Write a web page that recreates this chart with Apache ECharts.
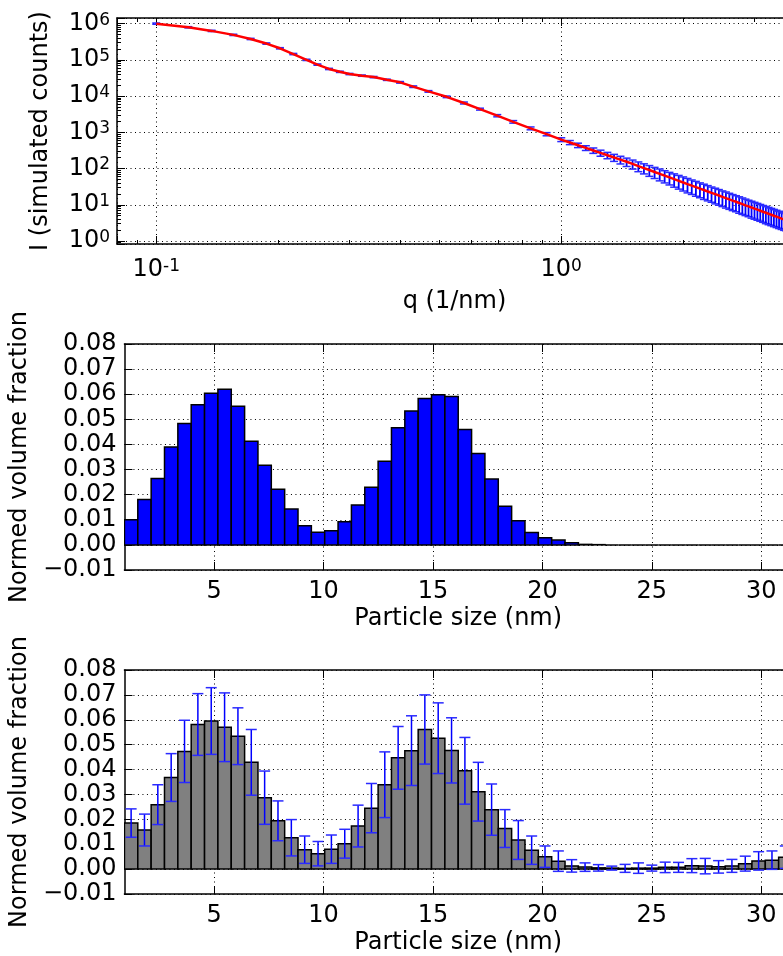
<!DOCTYPE html>
<html><head><meta charset="utf-8">
<script src="https://cdn.jsdelivr.net/npm/echarts@6/dist/echarts.min.js"></script>
<style>html,body{margin:0;padding:0;background:#fff;overflow:hidden}#c{width:800px;height:956px}</style>
</head><body><div id="c"></div>
<script>
// ---------- Panel 1: scattering curve ----------
const qValues = [0.100,0.120,0.137,0.155,0.171,0.187,0.202,0.218,0.235,0.250,0.267,0.284,0.300,0.322,0.344,0.371,0.400,0.431,0.470,0.521,0.575,0.630,0.695,0.761,0.840,0.920,
1.00,1.05,1.10,1.15,1.20,1.25,1.30,1.35,1.40,1.45,
1.50,1.55,1.60,1.65,1.70,1.75,1.80,1.85,1.90,1.95,2.00,2.05,2.10,2.15,2.20,2.25,2.30,2.35,2.40,2.45,2.50,2.55,2.60,2.65,2.70,2.75,2.80,2.85,2.90,2.95,3.00,3.05,3.10,3.15,3.20,3.25,3.30,3.35,3.40,3.45,3.50,3.55,3.60,3.65,3.70];
const intensity = [1.00e6,7.94e5,6.31e5,4.90e5,3.78e5,2.82e5,2.09e5,1.45e5,1.00e5,7.41e4,5.62e4,4.68e4,4.07e4,3.67e4,3.35e4,2.82e4,2.40e4,1.82e4,1.35e4,9.55e3,6.46e3,4.37e3,2.88e3,1.95e3,1.29e3,891,
631,525,440,371,316,270,233,202,176,154,
134,117,103,90.9,80.4,71.4,63.6,56.8,50.9,45.8,41.3,37.3,33.8,30.7,27.9,25.5,23.3,21.3,19.6,18.0,16.5,15.3,14.1,13.0,12.1,11.2,10.4,9.66,9.00,8.39,7.83,7.32,6.85,6.41,6.01,5.64,5.30,4.98,4.69,4.41,4.16,3.93,3.71,3.50,3.31];
const intensityRelErr = [0.04,0.04,0.04,0.04,0.04,0.04,0.04,0.04,0.04,0.04,0.04,0.04,0.04,0.04,0.04,0.04,0.05,0.05,0.05,0.05,0.06,0.06,0.07,0.08,0.09,0.10,
0.12,0.13,0.14,0.15,0.17,0.19,0.20,0.22,0.24,0.26,
0.28,0.30,0.31,0.33,0.34,0.36,0.37,0.38,0.40,0.41,0.42,0.43,0.43,0.44,0.44,0.45,0.45,0.45,0.46,0.46,0.46,0.47,0.47,0.47,0.47,0.48,0.48,0.48,0.48,0.49,0.49,0.49,0.49,0.49,0.50,0.50,0.50,0.50,0.50,0.50,0.50,0.50,0.50,0.50,0.50];
const qMin = 0.0800, qMax = 3.713;
const iMin = 0.826, iMax = 1.432e6;

// ---------- Panels 2 & 3: size distributions ----------
const binWidth = 0.61;
const binCenters = [1.209,1.819,2.429,3.039,3.649,4.259,4.869,5.479,6.089,6.699,7.309,7.919,8.529,9.139,9.749,10.359,10.969,11.579,12.189,12.799,13.409,14.019,14.629,15.239,15.849,16.459,17.069,17.679,18.289,18.899,19.509,20.119,20.729,21.339,21.949,22.559,23.169,23.779,24.389,24.999,25.609,26.219,26.829,27.439,28.049,28.659,29.269,29.879,30.489,31.099];
const volTrue = [0.0100,0.0181,0.0264,0.0390,0.0483,0.0558,0.0604,0.0620,0.0552,0.0413,0.0317,0.0222,0.0143,0.0076,0.0050,0.0056,0.0092,0.0159,0.0230,0.0333,0.0466,0.0533,0.0583,0.0598,0.0591,0.0460,0.0364,0.0262,0.0154,0.0096,0.0049,0.0028,0.0019,0.0009,0.0002,0.0001,0,0,0,0,0,0,0,0,0,0,0,0,0,0];
const volFit = [0.0185,0.0157,0.0259,0.0368,0.0473,0.0581,0.0595,0.0570,0.0534,0.0429,0.0287,0.0194,0.0126,0.0078,0.0062,0.0080,0.0102,0.0173,0.0245,0.0339,0.0447,0.0476,0.0561,0.0526,0.0477,0.0395,0.0311,0.0239,0.0163,0.0117,0.0076,0.0050,0.0032,0.0013,0.0008,0.0005,0.0004,0.0003,0.0004,0.0004,0.0007,0.0007,0.0014,0.0012,0.0009,0.0013,0.0022,0.0033,0.0036,0.0048];
const volFitErr = [0.0057,0.0064,0.0080,0.0096,0.0125,0.0124,0.0134,0.0138,0.0114,0.0132,0.0107,0.0080,0.0073,0.0055,0.0049,0.0057,0.0058,0.0084,0.0099,0.0132,0.0126,0.0140,0.0139,0.0142,0.0131,0.0134,0.0118,0.0103,0.0076,0.0078,0.0057,0.0043,0.0041,0.0025,0.0017,0.0013,0.0008,0.0016,0.0021,0.0012,0.0021,0.0020,0.0028,0.0031,0.0025,0.0026,0.0030,0.0037,0.0037,0.0045];
const sizeMin = 0.904, sizeMax = 31.404;
const sizeTicks = [5,10,15,20,25,30];

// minor tick positions for log axes (in log10 space)
const minorQ = [0.09,0.2,0.3,0.4,0.5,0.6,0.7,0.8,0.9,2,3].map(Math.log10);
const minorI = [];
for (let e = -1; e <= 5; e++) for (let k = 2; k <= 9; k++) { const v = k * Math.pow(10, e); if (v > iMin && v < iMax) minorI.push(Math.log10(v)); }

const FONT = 'DejaVu Sans';
const FS = 24;
const dotted = { color: '#000', width: 1, type: [1, 3.5] };
const frame = { show: true, onZero: false, lineStyle: { color: '#000', width: 1.5 } };
const noLine = { show: false, onZero: false };
const sup = {
  b: { fontSize: FS, fontFamily: FONT, color: '#000' },
  s: { fontSize: 17, fontFamily: FONT, color: '#000', verticalAlign: 'top' }
};
function powLabel(v) {
  const l = Math.log10(v), e = Math.round(l);
  if (Math.abs(l - e) > 1e-6) return '';
  return '{b|10}{s|' + e + '}';
}
const nameStyle = { fontSize: FS, fontFamily: FONT, color: '#000' };
const lblStyle = { fontSize: FS, fontFamily: FONT, color: '#000' };
const tickMajor = { inside: true, length: 8, lineStyle: { color: '#000', width: 1 } };

function bars(fill) {
  return function (params, api) {
    const c = api.value(0), v = api.value(1);
    const p0 = api.coord([c - binWidth / 2, v]);
    const p1 = api.coord([c + binWidth / 2, 0]);
    return { type: 'rect', shape: { x: p0[0], y: Math.min(p0[1], p1[1]), width: p1[0] - p0[0], height: Math.abs(p1[1] - p0[1]) },
      style: { fill: fill, stroke: '#000', lineWidth: 1.5 } };
  };
}
function errBars(hw, lw) {
  return function (params, api) {
    const c = api.value(0), lo = api.value(1), hi = api.value(2);
    const a = api.coord([c, lo]), b = api.coord([c, hi]);
    const st = { stroke: '#0000ff', lineWidth: lw };
    const cs = { stroke: '#2a2aff', lineWidth: 1.5 };
    return { type: 'group', children: [
      { type: 'line', shape: { x1: a[0], y1: a[1], x2: b[0], y2: b[1] }, style: st },
      { type: 'line', shape: { x1: a[0] - hw, y1: a[1], x2: a[0] + hw, y2: a[1] }, style: cs },
      { type: 'line', shape: { x1: b[0] - hw, y1: b[1], x2: b[0] + hw, y2: b[1] }, style: cs }
    ] };
  };
}

const grids = [
  { left: 117, top: 18, width: 675, height: 226 },
  { left: 117, top: 344, width: 675, height: 226 },
  { left: 117, top: 670, width: 675, height: 227 }
];

const xAxes = [
  // panel 1
  { type: 'log', gridIndex: 0, min: qMin, max: qMax, position: 'bottom', axisLine: frame, axisTick: tickMajor,
    axisLabel: { formatter: powLabel, rich: sup, margin: 14 },
    splitLine: { show: true, lineStyle: dotted },
    name: 'q (1/nm)', nameLocation: 'middle', nameGap: 46, nameTextStyle: nameStyle },
  { type: 'log', gridIndex: 0, min: qMin, max: qMax, position: 'top', axisLine: frame, axisTick: tickMajor,
    axisLabel: { show: false }, splitLine: { show: false } },
  { type: 'value', gridIndex: 0, min: Math.log10(qMin), max: Math.log10(qMax), position: 'bottom', axisLine: noLine,
    axisTick: { inside: true, length: 4, customValues: minorQ, lineStyle: { color: '#000', width: 1 } },
    axisLabel: { show: false }, splitLine: { show: false } },
  { type: 'value', gridIndex: 0, min: Math.log10(qMin), max: Math.log10(qMax), position: 'top', axisLine: noLine,
    axisTick: { inside: true, length: 4, customValues: minorQ, lineStyle: { color: '#000', width: 1 } },
    axisLabel: { show: false }, splitLine: { show: false } }
];
const yAxes = [
  { type: 'log', gridIndex: 0, min: iMin, max: iMax, position: 'left', axisLine: frame, axisTick: tickMajor,
    axisLabel: { formatter: powLabel, rich: sup, margin: 7 },
    splitLine: { show: true, lineStyle: dotted },
    name: 'I (simulated counts)', nameLocation: 'middle', nameGap: 64, nameTextStyle: nameStyle },
  { type: 'value', gridIndex: 0, min: Math.log10(iMin), max: Math.log10(iMax), position: 'left', axisLine: noLine,
    axisTick: { inside: true, length: 4, customValues: minorI, lineStyle: { color: '#000', width: 1 } },
    axisLabel: { show: false }, splitLine: { show: false } }
];
[1, 2].forEach(function (g) {
  xAxes.push({ type: 'value', gridIndex: g, min: sizeMin, max: sizeMax, position: 'bottom', axisLine: frame,
    axisTick: { inside: true, length: 8, customValues: sizeTicks, lineStyle: { color: '#000', width: 1 } },
    axisLabel: { customValues: sizeTicks, margin: 10, ...lblStyle },
    splitLine: { show: true, lineStyle: dotted },
    name: 'Particle size (nm)', nameLocation: 'middle', nameGap: 37, nameTextStyle: nameStyle });
  xAxes.push({ type: 'value', gridIndex: g, min: sizeMin, max: sizeMax, position: 'top', axisLine: frame,
    axisTick: { inside: true, length: 8, customValues: sizeTicks, lineStyle: { color: '#000', width: 1 } },
    axisLabel: { show: false }, splitLine: { show: false } });
  yAxes.push({ type: 'value', gridIndex: g, min: -0.01, max: 0.08, interval: 0.01, position: 'left', axisLine: frame, axisTick: tickMajor,
    axisLabel: { margin: 8, ...lblStyle, formatter: function (v) { return v.toFixed(2).replace('-', '\u2212'); } },
    splitLine: { show: true, lineStyle: dotted },
    name: 'Normed volume fraction', nameLocation: 'middle', nameGap: 80, nameTextStyle: nameStyle });
});

const chart = echarts.init(document.getElementById('c'), null, { renderer: 'canvas' });
chart.setOption({
  animation: false,
  backgroundColor: '#fff',
  textStyle: { fontFamily: FONT },
  grid: grids,
  xAxis: xAxes,
  yAxis: yAxes,
  series: [
    { type: 'custom', xAxisIndex: 0, yAxisIndex: 0, clip: true, renderItem: errBars(4, 1.8), z: 2,
      encode: { x: 0, y: [1, 2] },
      data: qValues.map(function (q, i) { const s = intensity[i] * intensityRelErr[i]; return [q, intensity[i] - s, intensity[i] + s]; }) },
    { type: 'line', xAxisIndex: 0, yAxisIndex: 0, showSymbol: false, symbol: 'none', clip: true, z: 3,
      lineStyle: { color: '#ff0000', width: 2.5 },
      data: qValues.map(function (q, i) { return [q, intensity[i]]; }) },
    { type: 'custom', xAxisIndex: 4, yAxisIndex: 2, clip: true, renderItem: bars('#0000ff'),
      encode: { x: 0, y: 1 },
      data: binCenters.map(function (c, i) { return [c, volTrue[i]]; }) },
    { type: 'custom', xAxisIndex: 6, yAxisIndex: 3, clip: true, renderItem: bars('#808080'),
      encode: { x: 0, y: 1 },
      data: binCenters.map(function (c, i) { return [c, volFit[i]]; }) },
    { type: 'custom', xAxisIndex: 6, yAxisIndex: 3, clip: true, renderItem: errBars(5.5, 1.5), z: 3,
      encode: { x: 0, y: [1, 2] },
      data: binCenters.map(function (c, i) { return [c, volFit[i] - volFitErr[i], volFit[i] + volFitErr[i]]; }) }
  ]
});
</script></body></html>
